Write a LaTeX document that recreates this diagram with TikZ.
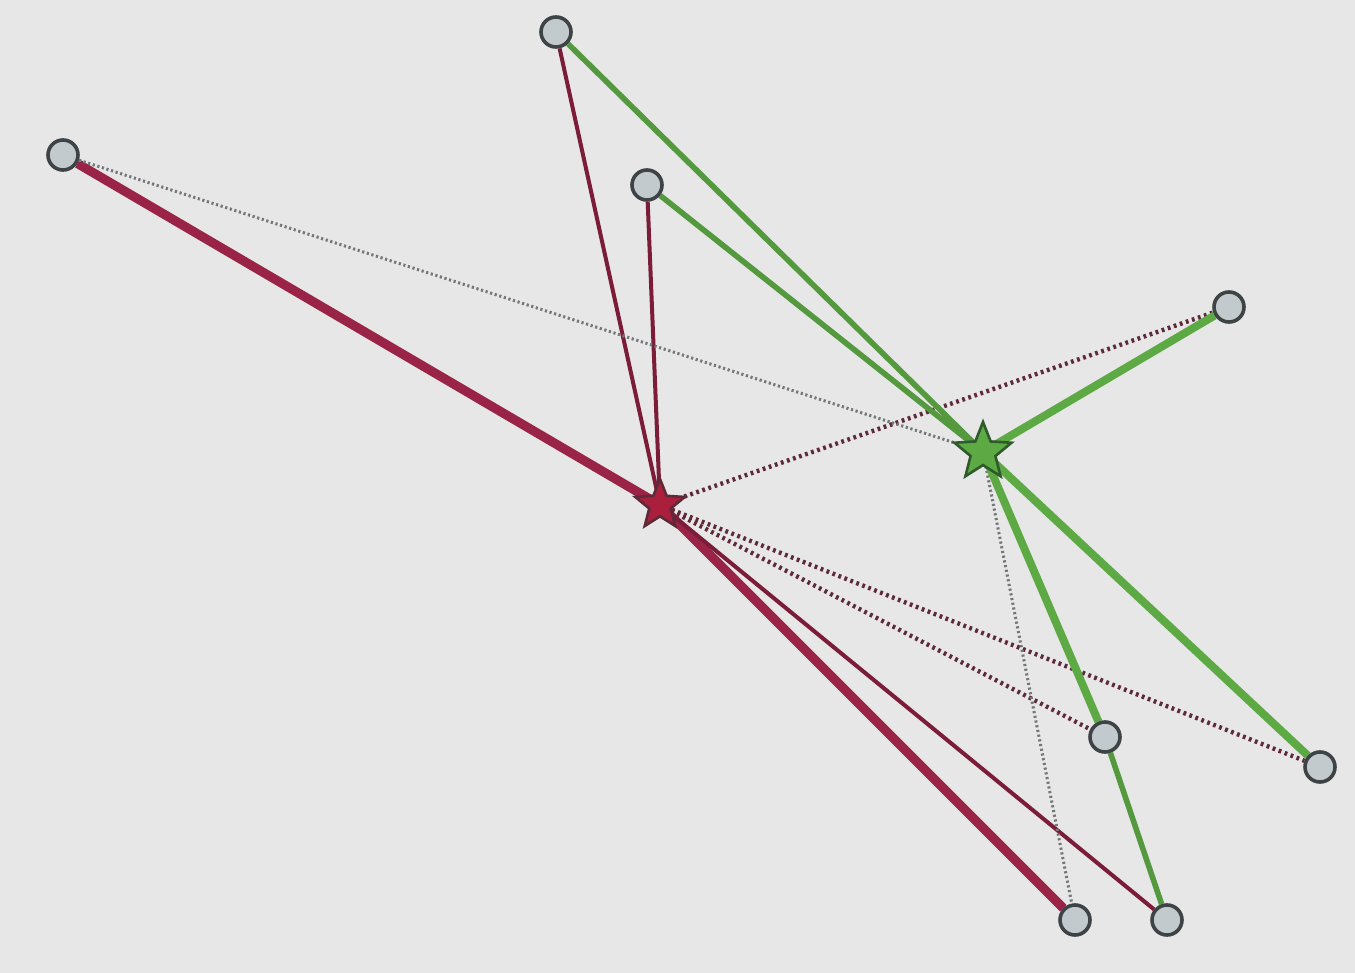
\documentclass[tikz,border=0pt]{standalone}
\usepackage{tikz}
\usetikzlibrary{positioning,shapes.geometric,backgrounds}
\definecolor{paper}    {HTML}{E7E7E7}
\definecolor{ink}      {HTML}{3E4346}
\definecolor{dotfill}  {HTML}{C3CACD}
\definecolor{crimson}  {HTML}{9A2447}
\definecolor{maroon}   {HTML}{5E2A3A}
\definecolor{leaf}     {HTML}{5DAA45}
\definecolor{leafdark} {HTML}{2F5A2C}
\definecolor{ash}      {HTML}{74787A}
\tikzset{
  % --- nodes
  site/.style  = {circle, draw=ink, fill=dotfill, line width=1.8pt,
                  minimum size=15pt, inner sep=0pt},
  hub/.style   = {star, star points=5, star point ratio=2.3, inner sep=0pt,
                  line width=1.3pt},
  hubred/.style= {hub, draw=maroon, fill=crimson!85!red, minimum size=26pt},
  hubgrn/.style= {hub, draw=leafdark, fill=leaf, minimum size=30pt},
  % --- edges
  rthick/.style= {draw=crimson, line width=4.6pt},
  rthin/.style = {draw=crimson!80!black, line width=2pt},
  gthick/.style= {draw=leaf, line width=4pt},
  gthin/.style = {draw=leaf!90!black, line width=2.8pt},
  rdot/.style  = {draw=maroon, line width=2.2pt, dash pattern=on 1.4pt off 1.8pt},
  gdot/.style  = {draw=ash, line width=1.5pt, dash pattern=on 1.1pt off 1.3pt},
}
\begin{document}
\begin{tikzpicture}[x=0.5pt,y=-0.5pt]
  % outer sites
  \node[site] (west)   at (63,155)   {};
  \node[site] (top)    at (556,32)   {};
  \node[site] (upper)  at (647,185)  {};
  \node[site] (east)   at (1229,307) {};
  \node[site] (mid)    at (1105,737) {};
  \node[site] (far)    at (1320,767) {};
  \node[site] (low)    at (1075,920) {};
  \node[site] (lowr)   at (1167,920) {};
  % the two hubs
  \node[hubred] (red)   at (660,505) {};
  \node[hubgrn] (green) at (983,452) {};

  \begin{scope}[on background layer]
    \fill[paper] (0,0) rectangle (1355,973);
    % red hub
    \draw[rthick] (west) -- (red.center);
    \draw[rthick] (red.center) -- (low);
    \draw[rthin]  (top) -- (red.center);
    \draw[rthin]  (upper) -- (red.center);
    \draw[rthin]  (red.center) -- (lowr);
    \draw[rdot]   (red.center) -- (east);
    \draw[rdot]   (red.center) -- (mid);
    \draw[rdot]   (red.center) -- (far);
    % green hub
    \draw[gdot]   (west) -- (green.center);
    \draw[gdot]   (green.center) -- (low);
    \draw[gthin]  (top) -- (green.center);
    \draw[gthin]  (upper) -- (green.center);
    \draw[gthick] (east) -- (green.center);
    \draw[gthick] (green.center) -- (mid);
    \draw[gthick] (green.center) -- (far);
    \draw[gthin]  (mid) -- (lowr);
  \end{scope}
\end{tikzpicture}
\end{document}
